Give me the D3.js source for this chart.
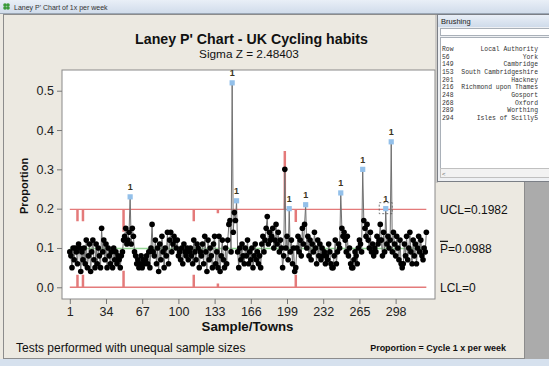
<!DOCTYPE html>
<html><head><meta charset="utf-8">
<script src="https://cdn.jsdelivr.net/npm/d3@7"></script>
<style>body{margin:0;background:#ece9e1;} svg{display:block;}</style>
</head><body>
<svg id="c" width="549" height="366"></svg>
<script>
// ---- data ----
const proportions = [
0.09,0.08,0.05,0.10,0.07,0.10,0.09,0.06,0.11,0.10,
0.04,0.09,0.07,0.10,0.06,0.12,0.05,0.08,0.11,0.04,
0.09,0.12,0.07,0.05,0.11,0.06,0.10,0.08,0.05,0.15,
0.09,0.12,0.07,0.11,0.05,0.10,0.08,0.06,0.09,0.05,
0.10,0.07,0.09,0.06,0.08,0.07,0.05,0.08,0.09,0.12,
0.13,0.15,0.11,0.12,0.14,0.23,0.11,0.15,0.13,0.09,
0.08,0.06,0.07,0.05,0.06,0.08,0.05,0.07,0.06,0.07,
0.08,0.06,0.09,0.05,0.10,0.16,0.09,0.08,0.12,0.06,
0.10,0.04,0.11,0.07,0.13,0.09,0.05,0.10,0.08,0.14,
0.06,0.12,0.14,0.09,0.11,0.13,0.12,0.10,0.12,0.08,
0.09,0.07,0.10,0.06,0.11,0.09,0.08,0.10,0.07,0.09,
0.10,0.08,0.06,0.12,0.09,0.07,0.11,0.10,0.05,0.09,
0.08,0.11,0.06,0.13,0.09,0.04,0.12,0.07,0.10,0.08,
0.05,0.11,0.13,0.06,0.09,0.05,0.13,0.04,0.08,0.12,
0.07,0.05,0.10,0.06,0.12,0.16,0.17,0.09,0.52,0.14,
0.19,0.17,0.22,0.09,0.05,0.10,0.07,0.11,0.08,0.06,
0.10,0.08,0.12,0.06,0.09,0.07,0.10,0.05,0.08,0.11,
0.07,0.09,0.06,0.08,0.05,0.11,0.13,0.09,0.12,0.15,
0.18,0.11,0.14,0.12,0.13,0.15,0.10,0.12,0.16,0.11,
0.14,0.09,0.12,0.10,0.05,0.08,0.30,0.10,0.13,0.07,
0.20,0.09,0.12,0.06,0.10,0.04,0.05,0.10,0.13,0.09,
0.12,0.08,0.15,0.11,0.16,0.21,0.10,0.13,0.08,0.12,
0.07,0.11,0.09,0.14,0.10,0.06,0.12,0.08,0.11,0.07,
0.10,0.08,0.09,0.06,0.08,0.07,0.11,0.09,0.06,0.05,
0.05,0.08,0.12,0.06,0.09,0.11,0.10,0.24,0.15,0.13,
0.14,0.12,0.09,0.13,0.08,0.10,0.06,0.05,0.05,0.07,
0.09,0.08,0.06,0.10,0.12,0.11,0.09,0.30,0.17,0.15,
0.13,0.16,0.12,0.10,0.14,0.09,0.11,0.08,0.10,0.09,
0.13,0.11,0.12,0.16,0.12,0.08,0.14,0.09,0.20,0.11,
0.13,0.10,0.12,0.37,0.09,0.14,0.11,0.08,0.13,0.10,
0.07,0.12,0.06,0.05,0.06,0.11,0.08,0.13,0.07,0.10,
0.14,0.09,0.06,0.12,0.08,0.11,0.06,0.10,0.13,0.09,
0.12,0.08,0.07,0.10,0.09,0.14
];
const flaggedRows = [56,149,153,201,216,248,268,289,294];
const flaggedNames = ["York","Cambridge","South Cambridgeshire","Hackney","Richmond upon Thames","Gosport","Oxford","Worthing","Isles of Scilly5"];
const selectedRow = 289;
const centerLine = 0.0988;
const uclBase = 0.1982;
const lclBase = 0;
const limitRows = [8,13,50,114,136,197,207];
const limitUCL  = [0.170,0.170,0.143,0.170,0.190,0.345,0.168];
const limitLCL  = [0.030,0.030,0.040,0.030,0.008,0.000,0.030];
const xTicks = [1,34,67,100,133,166,199,232,265,298];
const yTicks = [0,0.1,0.2,0.3,0.4,0.5];

// ---- drawing ----
const svg = d3.select("#c");
const defs = svg.append("defs");
const g1 = defs.append("linearGradient").attr("id","tb").attr("x1",0).attr("y1",0).attr("x2",0).attr("y2",1);
g1.append("stop").attr("offset","0").attr("stop-color","#e9eff7");
g1.append("stop").attr("offset","1").attr("stop-color","#cfdbea");

// window chrome
svg.append("rect").attr("x",0).attr("y",0).attr("width",549).attr("height",366).attr("fill","#ece9e1");
svg.append("rect").attr("x",0).attr("y",0).attr("width",549).attr("height",14).attr("fill","url(#tb)");
svg.append("line").attr("x1",0).attr("x2",549).attr("y1",13.5).attr("y2",13.5).attr("stroke","#9aa6b4");
const icon = svg.append("g");
[[5,5],[8,5],[5,8],[8,8]].forEach(p=>icon.append("circle").attr("cx",p[0]).attr("cy",p[1]).attr("r",1.8).attr("fill","#3a9a3a"));
svg.append("text").attr("x",14).attr("y",9.5).attr("font-family","Liberation Sans").attr("font-size",7).attr("fill","#333").text("Laney P' Chart of 1x per week");
svg.append("rect").attr("x",525).attr("y",180).attr("width",24).attr("height",180).attr("fill","#ababab");
svg.append("rect").attr("x",0).attr("y",359).attr("width",549).attr("height",7).attr("fill","#d6e1ee");
svg.append("rect").attr("x",3.5).attr("y",14.5).attr("width",521).attr("height",344).attr("fill","none").attr("stroke","#8c8c8c");

// scales
const x = d3.scaleLinear().domain([-6.11, 333.9]).range([62,435]);
const y = d3.scaleLinear().domain([-0.0298, 0.5527]).range([299,70]);

// plot frame
svg.append("rect").attr("x",62).attr("y",70).attr("width",373).attr("height",229).attr("fill","#fff").attr("stroke","#8a8a8a");

// axes
const fontF = "Liberation Sans, Arial, sans-serif";
const ya = svg.append("g").attr("transform","translate(62,0)")
  .call(d3.axisLeft(y).tickValues(yTicks).tickFormat(d3.format(".1f")).tickSize(5).tickPadding(3));
const xa = svg.append("g").attr("transform","translate(0,299)")
  .call(d3.axisBottom(x).tickValues(xTicks).tickFormat(d3.format("d")).tickSize(5).tickPadding(3));
[ya,xa].forEach(a=>{a.select(".domain").remove();
  a.selectAll(".tick line").attr("stroke","#777");
  a.selectAll(".tick text").attr("font-family",fontF).attr("font-size",12.5).attr("fill","#222");});

// limits
const n = proportions.length;
const ucl = proportions.map((_,i)=>{const k=limitRows.indexOf(i+1);return k>=0?limitUCL[k]:uclBase;});
const lcl = proportions.map((_,i)=>{const k=limitRows.indexOf(i+1);return k>=0?limitLCL[k]:lclBase;});
const stepLine = d3.line().x((d,i)=>x(i+1)).y(d=>y(d)).curve(d3.curveStep);
svg.append("path").attr("d",stepLine(proportions.map(()=>centerLine))).attr("fill","none").attr("stroke","#95d595").attr("stroke-width",1.4);
svg.append("path").attr("d",stepLine(ucl)).attr("fill","none").attr("stroke","#e47a7a").attr("stroke-width",1.4);
svg.append("path").attr("d",stepLine(lcl)).attr("fill","none").attr("stroke","#e47a7a").attr("stroke-width",1.4);

// data line
const dataLine = d3.line().x((d,i)=>x(i+1)).y(d=>y(d));
svg.append("path").attr("d",dataLine(proportions)).attr("fill","none").attr("stroke","#707070").attr("stroke-width",1);

const pts = proportions.map((v,i)=>({s:i+1,v}));
svg.append("g").selectAll("circle").data(pts.filter(p=>!flaggedRows.includes(p.s))).join("circle")
  .attr("cx",d=>x(d.s)).attr("cy",d=>y(d.v)).attr("r",2.8).attr("fill","#000");
const fl = pts.filter(p=>flaggedRows.includes(p.s));
svg.append("g").selectAll("rect").data(fl).join("rect")
  .attr("x",d=>x(d.s)-2.6).attr("y",d=>y(d.v)-2.6).attr("width",5.2).attr("height",5.2).attr("fill","#93c0ea");
svg.append("g").selectAll("text").data(fl).join("text")
  .attr("x",d=>x(d.s)).attr("y",d=>y(d.v)-6.5).attr("text-anchor","middle")
  .attr("font-family",fontF).attr("font-size",9).attr("font-weight","bold").attr("fill","#3a3320").text("1");
// brushing selection box
const sel = pts[selectedRow-1];
svg.append("rect").attr("x",x(sel.s)-6.5).attr("y",y(sel.v)-6).attr("width",13).attr("height",11)
  .attr("fill","none").attr("stroke","#555").attr("stroke-width",0.8).attr("stroke-dasharray","2,2");

// labels
function fit(t,w){const L=t.node().getComputedTextLength();t.attr("font-size",parseFloat(t.attr("font-size"))*w/L);}
fit(svg.append("text").attr("x",251.5).attr("y",43.5).attr("text-anchor","middle").attr("font-family",fontF)
  .attr("font-weight","bold").attr("font-size",15).attr("fill","#111").text("Laney P' Chart - UK Cycling habits"),233);
fit(svg.append("text").attr("x",249).attr("y",58).attr("text-anchor","middle").attr("font-family",fontF)
  .attr("font-size",12).attr("fill","#111").text("Sigma Z = 2.48403"),100);
svg.append("text").attr("transform","translate(28,186) rotate(-90)").attr("text-anchor","middle").attr("font-family",fontF)
  .attr("font-weight","bold").attr("font-size",11).attr("fill","#111").text("Proportion");
fit(svg.append("text").attr("x",247.5).attr("y",330.5).attr("text-anchor","middle").attr("font-family",fontF)
  .attr("font-weight","bold").attr("font-size",13).attr("fill","#111").text("Sample/Towns"),92);
svg.append("text").attr("x",16).attr("y",351.5).attr("font-family",fontF)
  .attr("font-size",12).attr("fill","#111").text("Tests performed with unequal sample sizes");
fit(svg.append("text").attr("x",506).attr("y",351).attr("text-anchor","end").attr("font-family",fontF)
  .attr("font-weight","bold").attr("font-size",9).attr("fill","#111").text("Proportion = Cycle 1 x per week"),136);
svg.append("text").attr("x",440).attr("y",y(uclBase)+4.3).attr("font-family",fontF).attr("font-size",12).attr("fill","#111").text("UCL=0.1982");
const pt = svg.append("text").attr("x",440).attr("y",y(centerLine)+4.3).attr("font-family",fontF).attr("font-size",12).attr("fill","#111");
pt.append("tspan").attr("text-decoration","overline").text("P");
pt.append("tspan").text("=0.0988");
svg.append("text").attr("x",440).attr("y",y(lclBase)+4.3).attr("font-family",fontF).attr("font-size",12).attr("fill","#111").text("LCL=0");

// brushing window
const bw = svg.append("g");
bw.append("rect").attr("x",435).attr("y",15).attr("width",3).attr("height",168).attr("fill","#b0b0b0").attr("opacity",0.5);
bw.append("rect").attr("x",437.5).attr("y",14.5).attr("width",115).attr("height",167).attr("fill","#eef0f3").attr("stroke","#7b7f86");
bw.append("rect").attr("x",438).attr("y",15).attr("width",112).attr("height",12).attr("fill","url(#tb)");
bw.append("text").attr("x",441).attr("y",24).attr("font-family",fontF).attr("font-size",7.5).attr("fill","#222").text("Brushing");
bw.append("rect").attr("x",440.5).attr("y",28.5).attr("width",110).attr("height",7).attr("fill","#fff").attr("stroke","#a9b0b8");
bw.append("rect").attr("x",440.5).attr("y",37.5).attr("width",110).attr("height",131).attr("fill","#fff").attr("stroke","#a9b0b8");
bw.append("rect").attr("x",440.5).attr("y",168.5).attr("width",110).attr("height",9).attr("fill","#f2f2f2").attr("stroke","#c0c0c0");
bw.append("text").attr("x",442).attr("y",175.5).attr("font-family",fontF).attr("font-size",6).attr("fill","#666").text("<");
const mono = "Liberation Mono, monospace";
bw.append("text").attr("x",442).attr("y",51).attr("font-family",mono).attr("font-size",6.4).attr("fill","#333").text("Row");
bw.append("text").attr("x",538).attr("y",51).attr("text-anchor","end").attr("font-family",mono).attr("font-size",6.4).attr("fill","#333").text("Local Authority");
flaggedRows.forEach((r,i)=>{
  const yy = 51 + (i+1)*7.65;
  bw.append("text").attr("x",442).attr("y",yy).attr("font-family",mono).attr("font-size",6.4).attr("fill","#333").text(r);
  bw.append("text").attr("x",538).attr("y",yy).attr("text-anchor","end").attr("font-family",mono).attr("font-size",6.4).attr("fill","#333").text(flaggedNames[i]);
});
</script>
</body></html>
